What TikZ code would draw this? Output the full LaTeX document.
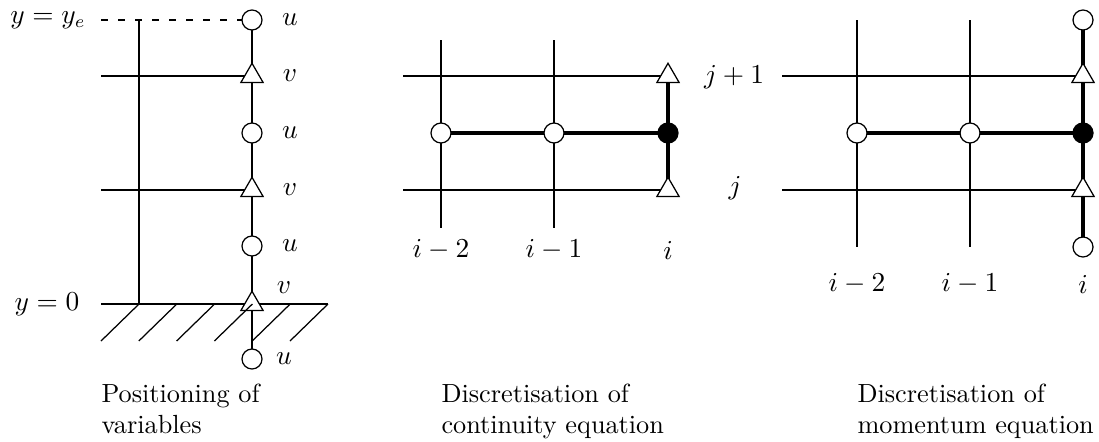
\documentclass[tikz,border=0pt]{standalone}
\usetikzlibrary{shapes.geometric}
\pgfdeclarelayer{background}
\pgfsetlayers{background,main}
\begin{document}
\begin{tikzpicture}[x=0.4pt,y=-0.4pt,
  font=\fontsize{10.5}{12.6}\selectfont,
  thin line/.style={line width=0.5pt},
  thick line/.style={line width=1.8pt},
  ucirc/.style={circle,draw,fill=white,line width=0.5pt,minimum size=8pt,inner sep=0pt},
  udot/.style={circle,draw,fill=black,line width=0.5pt,minimum size=8pt,inner sep=0pt},
  vtri/.style={regular polygon,regular polygon sides=3,draw,fill=white,line width=0.5pt,minimum size=10.2pt,inner sep=0pt},
  lbl/.style={inner sep=0pt},
  captext/.style={anchor=base west,inner sep=0pt}]
\useasboundingbox (0,0) rectangle (1099,441);

% ---------- Panel 1: positioning of variables ----------
\node[ucirc] (u1) at (252,20) {};
\node[vtri]  (t1) at (252,76) {};
\node[ucirc] (u2) at (252,133) {};
\node[vtri]  (t2) at (252,190) {};
\node[ucirc] (u3) at (252,246) {};
\node[vtri]  (t3) at (252,304) {};
\node[ucirc] (u4) at (252,359) {};
\coordinate (a1) at (101,20);
\coordinate (c1) at (139,20);
\coordinate (c0) at (139,304);
\coordinate (h1) at (101,76);
\coordinate (h2) at (101,190);
\coordinate (g0) at (101,304);
\coordinate (g1) at (328,304);
\begin{pgfonlayer}{background}
  \draw[thin line,dash pattern=on 2.6pt off 4.2pt] (a1) -- (u1.center);
  \draw[thin line] (c1) -- (c0);
  \draw[thin line] (h1) -- (t1.center);
  \draw[thin line] (h2) -- (t2.center);
  \draw[thin line] (g0) -- (g1);
  \draw[thin line] (u1.center) -- (u4.center);
\end{pgfonlayer}
\foreach \k in {0,...,5}{
  \draw[thin line] ({101+37.8*\k},341) -- ({139+37.8*\k},304);
}
\node[lbl] (lu1) at (290,20) {$u$};
\node[lbl] (lv1) at (290,76) {$v$};
\node[lbl] (lu2) at (290,133) {$u$};
\node[lbl] (lv2) at (290,190) {$v$};
\node[lbl] (lu3) at (290,246) {$u$};
\node[lbl] (lv3) at (284,288) {$v$};
\node[lbl] (lu4) at (284,359) {$u$};
\node[lbl] (lye) at (48,20) {$y = y_e$};
\node[lbl] (ly0) at (47,304) {$y = 0$};
\node[captext] (cap1a) at (101,402) {Positioning of};
\node[captext] (cap1b) at (101,433) {variables};

% ---------- Panel 2: continuity equation ----------
\node[ucirc] (b1) at (441,133) {};
\node[ucirc] (b2) at (554,133) {};
\node[udot]  (b3) at (668,133) {};
\node[vtri]  (bt1) at (668,76) {};
\node[vtri]  (bt2) at (668,190) {};
\coordinate (bv1a) at (441,40);
\coordinate (bv1b) at (441,228);
\coordinate (bv2a) at (554,40);
\coordinate (bv2b) at (554,228);
\coordinate (bh1) at (403,76);
\coordinate (bh2) at (403,190);
\begin{pgfonlayer}{background}
  \draw[thin line] (bv1a) -- (bv1b);
  \draw[thin line] (bv2a) -- (bv2b);
  \draw[thin line] (bh1) -- (bt1.center);
  \draw[thin line] (bh2) -- (bt2.center);
  \draw[thick line] (b1.center) -- (b3.center);
  \draw[thick line] (bt1.center) -- (bt2.center);
\end{pgfonlayer}
\node[lbl] (bi2) at (441,250) {$i-2$};
\node[lbl] (bi1) at (554,250) {$i-1$};
\node[lbl] (bi0) at (668,250) {$i$};
\node[captext] (cap2a) at (441,402) {Discretisation of};
\node[captext] (cap2b) at (441,433) {continuity equation};

% ---------- Panel 3: momentum equation ----------
\node[ucirc] (m1) at (857,133) {};
\node[ucirc] (m2) at (970,133) {};
\node[udot]  (m3) at (1083,133) {};
\node[vtri]  (mt1) at (1083,76) {};
\node[vtri]  (mt2) at (1083,190) {};
\node[ucirc] (mu1) at (1083,20) {};
\node[ucirc] (mu2) at (1083,247) {};
\coordinate (mv1a) at (857,20);
\coordinate (mv1b) at (857,247);
\coordinate (mv2a) at (970,20);
\coordinate (mv2b) at (970,247);
\coordinate (mh1) at (782,76);
\coordinate (mh2) at (782,190);
\begin{pgfonlayer}{background}
  \draw[thin line] (mv1a) -- (mv1b);
  \draw[thin line] (mv2a) -- (mv2b);
  \draw[thin line] (mh1) -- (mt1.center);
  \draw[thin line] (mh2) -- (mt2.center);
  \draw[thick line] (m1.center) -- (m3.center);
  \draw[thick line] (mu1.center) -- (mu2.center);
\end{pgfonlayer}
\node[lbl] (mj1) at (734,77) {$j+1$};
\node[lbl] (mj0) at (735,188) {$j$};
\node[lbl] (mi2) at (857,284) {$i-2$};
\node[lbl] (mi1) at (970,284) {$i-1$};
\node[lbl] (mi0) at (1083,284) {$i$};
\node[captext] (cap3a) at (857,402) {Discretisation of};
\node[captext] (cap3b) at (857,433) {momentum equation};
\end{tikzpicture}
\end{document}
